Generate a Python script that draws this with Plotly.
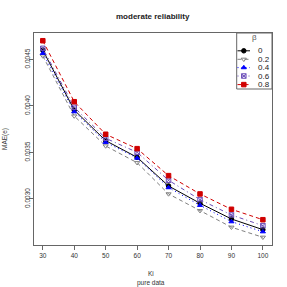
import plotly.graph_objects as go

ki = [30, 40, 50, 60, 70, 80, 90, 100]
beta_labels = ["0", "0.2", "0.4", "0.6", "0.8"]
mae_b0 = [0.004600, 0.003957, 0.003627, 0.003448, 0.003140, 0.002954, 0.002785, 0.002670]
mae_b02 = [0.004538, 0.003892, 0.003570, 0.003390, 0.003054, 0.002874, 0.002696, 0.002588]
mae_b04 = [0.004567, 0.003939, 0.003610, 0.003440, 0.003122, 0.002932, 0.002756, 0.002648]
mae_b06 = [0.004620, 0.003986, 0.003653, 0.003502, 0.003201, 0.002993, 0.002828, 0.002713]
mae_b08 = [0.004702, 0.004046, 0.003696, 0.003541, 0.003251, 0.003054, 0.002889, 0.002777]
x_ticks = [30, 40, 50, 60, 70, 80, 90, 100]
y_ticks = [0.0030, 0.0035, 0.0040, 0.0045]
y_tick_labels = ["0.0030", "0.0035", "0.0040", "0.0045"]

# plot-area geometry in screen pixels
L, R, T, B = 34, 272, 33, 245
W, H = 287, 287

styles = [
    ("#000000", "solid", "circle", 4.5),
    ("#808080", "4px,3px", "triangle-down-open", 4.5),
    ("#0000FF", "1px,3px", "triangle-up", 4.5),
    ("#6A4CB8", "1px,3px,4px,3px", "square-x-open", 4.5),
    ("#D00000", "4px,3px", "square", 4.5),
]
series = [mae_b0, mae_b02, mae_b04, mae_b06, mae_b08]

fig = go.Figure()
for vals, (col, dash, sym, sz), lab in zip(series, styles, beta_labels):
    fig.add_trace(go.Scatter(
        x=ki, y=vals, name=lab, mode="lines+markers", showlegend=False,
        line=dict(color=col, width=1, dash=dash),
        marker=dict(color=col, symbol=sym, size=sz, line=dict(color=col, width=1)),
    ))

# hand-drawn legend (R style) on an overlay axis in screen-pixel units
leg_box = (236.7, 33, 272, 89)
leg_rows = [50.8, 59.3, 67.6, 76.0, 84.6]
fig.add_shape(type="rect", xref="x2", yref="y2", x0=leg_box[0], y0=leg_box[1],
              x1=leg_box[2], y1=leg_box[3], line=dict(color="#666", width=1),
              fillcolor="white", layer="below")
for (col, dash, sym, sz), lab, ry in zip(styles, beta_labels, leg_rows):
    fig.add_trace(go.Scatter(x=[237.5, 250], y=[ry, ry], xaxis="x2", yaxis="y2",
                             mode="lines", showlegend=False, hoverinfo="skip",
                             line=dict(color=col, width=1, dash=dash)))
    fig.add_trace(go.Scatter(x=[243.8], y=[ry], xaxis="x2", yaxis="y2",
                             mode="markers", showlegend=False, hoverinfo="skip",
                             marker=dict(color=col, symbol=sym, size=sz,
                                         line=dict(color=col, width=1))))
    fig.add_annotation(x=256, y=ry, xref="x2", yref="y2", text=lab, showarrow=False,
                       xanchor="left", yanchor="middle",
                       font=dict(size=8, color="#222"))
fig.add_annotation(x=(leg_box[0] + leg_box[2]) / 2, y=37.8, xref="x2", yref="y2",
                   text="β", showarrow=False, xanchor="center", yanchor="middle",
                   font=dict(size=8, color="#555"))

# title and axis titles as annotations (R positions)
fig.add_annotation(x=0.5, xref="paper", y=(B - 16.5) / (B - T), yref="paper",
                   text="<b>moderate reliability</b>", showarrow=False,
                   xanchor="center", yanchor="middle", font=dict(size=8, color="#222"))
fig.add_annotation(x=(151 - L) / (R - L), xref="paper", y=(B - 273.5) / (B - T), yref="paper",
                   text="Ki", showarrow=False, xanchor="center", yanchor="middle",
                   font=dict(size=6.5, color="#333"))
fig.add_annotation(x=(151 - L) / (R - L), xref="paper", y=(B - 282.5) / (B - T), yref="paper",
                   text="pure data", showarrow=False, xanchor="center", yanchor="middle",
                   font=dict(size=6.5, color="#333"))
fig.add_annotation(x=(5 - L) / (R - L), xref="paper", y=0.5, yref="paper",
                   text="MAE(e)", textangle=-90, showarrow=False,
                   xanchor="center", yanchor="middle", font=dict(size=6.5, color="#333"))

axis_common = dict(ticks="outside", ticklen=4, showgrid=False, zeroline=False,
                   showline=True, mirror=True, linecolor="#666", linewidth=1,
                   tickcolor="#666", tickwidth=1, automargin=False,
                   tickfont=dict(size=6.5, color="#333"))

font = "Liberation Sans, Arial, sans-serif"
fig.update_layout(
    template="none",
    width=W, height=H,
    margin=dict(l=L, r=W - R, t=T, b=H - B, pad=0),
    paper_bgcolor="white", plot_bgcolor="white",
    font=dict(family=font, size=6.5, color="#333"),
    showlegend=False,
    hovermode=False,
    xaxis=dict(range=[27.2, 102.9], tickvals=x_ticks, **axis_common),
    yaxis=dict(range=[0.002505, 0.004785], tickvals=y_ticks, ticktext=y_tick_labels,
               tickangle=-90, ticklabelstandoff=-4, **axis_common),
    xaxis2=dict(overlaying="x", range=[L, R], visible=False, fixedrange=True),
    yaxis2=dict(overlaying="y", range=[B, T], visible=False, fixedrange=True),
)

fig.write_html("out.html", config={"displayModeBar": False, "staticPlot": True},
               post_script="document.body.style.margin='0';document.body.style.overflow='hidden';")
